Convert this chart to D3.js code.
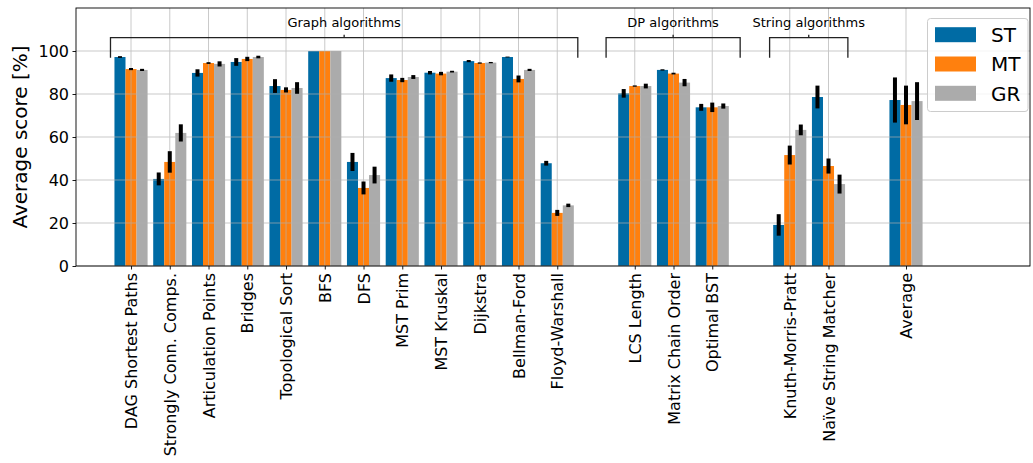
<!DOCTYPE html>
<html><head><meta charset="utf-8">
<script src="https://cdn.jsdelivr.net/npm/d3@7"></script>
<style>body{margin:0;background:#fff}svg{display:block;font-family:"DejaVu Sans",sans-serif}</style>
</head><body><svg id="c" width="1033" height="463"></svg>
<script>
// ---- data ----
const groupNames = ["Graph algorithms", "DP algorithms", "String algorithms", null];
const groupItems = [
  ["DAG Shortest Paths","Strongly Conn. Comps.","Articulation Points","Bridges","Topological Sort","BFS","DFS","MST Prim","MST Kruskal","Dijkstra","Bellman-Ford","Floyd-Warshall"],
  ["LCS Length","Matrix Chain Order","Optimal BST"],
  ["Knuth-Morris-Pratt","Naïve String Matcher"],
  ["Average"]
];
const seriesNames = ["ST","MT","GR"];
const stValues = [97.2,40.5,89.8,94.9,83.7,100,48.4,87.4,89.9,95.3,97.2,47.8, 80.3,91.2,73.8, 19.1,78.6, 77.2];
const stErrors = [0.4,3.0,1.7,1.8,3.2,0,4.2,1.7,0.8,0.5,0.2,1.1, 2.0,0.3,1.6, 5.0,5.3, 10.5];
const mtValues = [91.6,48.4,94.4,96.3,81.9,100,36.3,86.5,89.5,94.4,87.0,24.7, 83.7,89.5,73.8, 51.6,46.5, 74.9];
const mtErrors = [0.5,5.0,0.4,1.0,1.2,0,3.0,1.0,0.8,0.3,1.6,1.4, 0.3,0.4,2.2, 4.4,3.5, 9.0];
const grValues = [91.2,61.9,94.0,97.2,82.8,100,42.3,87.9,90.4,94.6,91.2,28.2, 83.7,85.3,74.4, 63.3,38.1, 76.7];
const grErrors = [0.5,4.0,1.2,0.6,2.7,0,3.9,0.9,0.4,0.3,0.5,0.8, 1.1,1.7,1.2, 2.5,4.4, 8.8];
const yTicks = [0,20,40,60,80,100];
const yLabel = "Average score [%]";

// ---- style ----
const colors = ["#006BA4","#FF800E","#ABABAB"];
const bracketPad = [[0.53,0.53],[0.74,0.72],[0.52,0.5]];
const M = {l:76, r:1030, t:8, b:266};

// ---- layout from data ----
const cats = []; let slot = 0;
groupItems.forEach((items, gi) => {
  if (gi > 0) slot += 1; // one empty slot between groups
  items.forEach(name => { cats.push({name, idx: slot, group: gi}); slot += 1; });
});
const series = [stValues, mtValues, grValues];
const errs = [stErrors, mtErrors, grErrors];

const svg = d3.select("#c");
const x = d3.scaleLinear().domain([-1.42, 23.2]).range([M.l, M.r]);
const y = d3.scaleLinear().domain([0, 120]).range([M.b, M.t]);
const unit = x(1) - x(0);
const bw = 0.285;

// bars
series.forEach((vals, si) => {
  svg.append("g").selectAll("rect").data(cats).join("rect")
    .attr("x", (d,i) => x(d.idx + (si-1)*bw - bw/2))
    .attr("width", bw*unit)
    .attr("y", (d,i) => y(vals[i]))
    .attr("height", (d,i) => y(0) - y(vals[i]))
    .attr("fill", colors[si]);
});

// grid (on top of bars)
const grid = svg.append("g").attr("stroke", "#b0b0b0").attr("stroke-width", 0.9).attr("opacity", 0.75);
grid.selectAll("line.h").data(yTicks).join("line").attr("class","h")
  .attr("x1", M.l).attr("x2", M.r).attr("y1", d => y(d)).attr("y2", d => y(d));
grid.selectAll("line.v").data(cats).join("line").attr("class","v")
  .attr("x1", d => x(d.idx)).attr("x2", d => x(d.idx)).attr("y1", M.t).attr("y2", M.b);

// error bars
series.forEach((vals, si) => {
  svg.append("g").selectAll("line").data(cats).join("line")
    .attr("x1", d => x(d.idx + (si-1)*bw)).attr("x2", d => x(d.idx + (si-1)*bw))
    .attr("y1", (d,i) => y(vals[i] - errs[si][i]))
    .attr("y2", (d,i) => y(vals[i] + errs[si][i]))
    .attr("stroke", "#000").attr("stroke-width", 4);
});

// axes
const xAxis = d3.axisBottom(x).tickValues(cats.map(d => d.idx))
  .tickFormat(v => cats.find(c => c.idx === v).name).tickSize(3.5).tickPadding(3.5);
const gx = svg.append("g").attr("transform", `translate(0,${M.b})`).call(xAxis);
gx.select(".domain").remove();
gx.selectAll("text").attr("font-size", 16).attr("fill", "#000")
  .attr("transform", "rotate(-90)").attr("text-anchor", "end")
  .attr("x", -7).attr("y", 0).attr("dy", "0.35em");
gx.selectAll(".tick line").attr("stroke", "#000").attr("stroke-width", 0.9);

const yAxis = d3.axisLeft(y).tickValues(yTicks).tickSize(3.5).tickPadding(3.5);
const gy = svg.append("g").attr("transform", `translate(${M.l},0)`).call(yAxis);
gy.select(".domain").remove();
gy.selectAll("text").attr("font-size", 16).attr("fill", "#000").attr("font-family", "DejaVu Sans");
gy.selectAll(".tick line").attr("stroke", "#000").attr("stroke-width", 0.9);
gx.selectAll("text").attr("font-family", "DejaVu Sans");

// frame
svg.append("rect").attr("x", M.l).attr("y", M.t).attr("width", M.r - M.l).attr("height", M.b - M.t)
  .attr("fill", "none").attr("stroke", "#000").attr("stroke-width", 0.9);

// y label
svg.append("text").attr("transform", `translate(27,${(M.t+M.b)/2}) rotate(-90)`)
  .attr("text-anchor", "middle").attr("font-size", 20).text(yLabel);

// brackets
groupNames.forEach((gname, gi) => {
  if (!gname) return;
  const members = cats.filter(c => c.group === gi);
  const x0 = x(members[0].idx - bracketPad[gi][0]);
  const x1 = x(members[members.length-1].idx + bracketPad[gi][1]);
  const xm = (x0 + x1) / 2;
  const yb = y(106.2), yd = y(96.9);
  const g = svg.append("g").attr("stroke", "#222").attr("stroke-width", 1.3).attr("fill", "none");
  g.append("path").attr("d", `M${x0},${yd}V${yb}H${x1}V${yd}`);
  g.append("path").attr("d", `M${xm},${yb}V${yb-3}`);
  svg.append("text").attr("x", xm).attr("y", y(111.2)).attr("text-anchor", "middle")
    .attr("font-size", 13).attr("fill", "#000").text(gname);
});

// legend
const lg = svg.append("g");
lg.append("rect").attr("x", 927.5).attr("y", 18.5).attr("width", 100.5).attr("height", 93)
  .attr("rx", 3).attr("fill", "#fff").attr("fill-opacity", 0.8).attr("stroke", "#cccccc").attr("stroke-width", 1);
seriesNames.forEach((s, i) => {
  const cy = 34.7 + i * 29.3;
  lg.append("rect").attr("x", 935).attr("y", cy - 7.5).attr("width", 41).attr("height", 15).attr("fill", colors[i]);
  lg.append("text").attr("x", 991).attr("y", cy).attr("dy", "0.36em").attr("font-size", 20).text(s);
});
</script></body></html>
